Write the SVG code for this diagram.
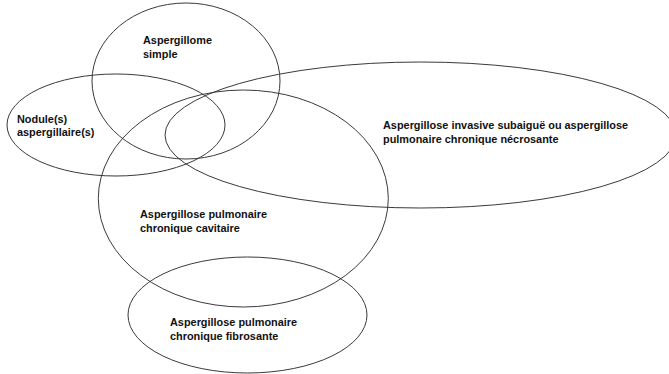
<svg xmlns="http://www.w3.org/2000/svg" width="669" height="374" viewBox="0 0 669 374">
<style>
.shape{fill:none;stroke:#3a3a3a;stroke-width:1}
.lbl{font-family:"Liberation Sans",Arial,sans-serif;font-size:10.9px;font-weight:bold;fill:#111}
</style>
<rect width="669" height="374" fill="#ffffff"/>
<g id="aspergillome-simple">
<ellipse class="shape" cx="186" cy="81" rx="94" ry="78"/>
<text class="lbl" x="143" y="44">Aspergillome</text>
<text class="lbl" x="143" y="57.7">simple</text>
</g>
<g id="nodules-aspergillaires">
<ellipse class="shape" cx="116" cy="125" rx="109" ry="51"/>
<text class="lbl" x="17" y="122.7">Nodule(s)</text>
<text class="lbl" x="17" y="135.7">aspergillaire(s)</text>
</g>
<g id="aspergillose-invasive-subaigue">
<ellipse class="shape" cx="420.5" cy="135" rx="255.5" ry="73"/>
<text class="lbl" x="383" y="129">Aspergillose invasive subaiguë ou aspergillose</text>
<text class="lbl" x="383" y="143">pulmonaire chronique nécrosante</text>
</g>
<g id="aspergillose-pulmonaire-chronique-cavitaire">
<ellipse class="shape" cx="243.3" cy="198.5" rx="145" ry="108.5"/>
<text class="lbl" x="140" y="218.3">Aspergillose pulmonaire</text>
<text class="lbl" x="140" y="232.3">chronique cavitaire</text>
</g>
<g id="aspergillose-pulmonaire-chronique-fibrosante">
<ellipse class="shape" cx="247.5" cy="315" rx="119.5" ry="58"/>
<text class="lbl" x="170" y="326">Aspergillose pulmonaire</text>
<text class="lbl" x="170" y="340">chronique fibrosante</text>
</g>
<g id="connectors"/>
</svg>
